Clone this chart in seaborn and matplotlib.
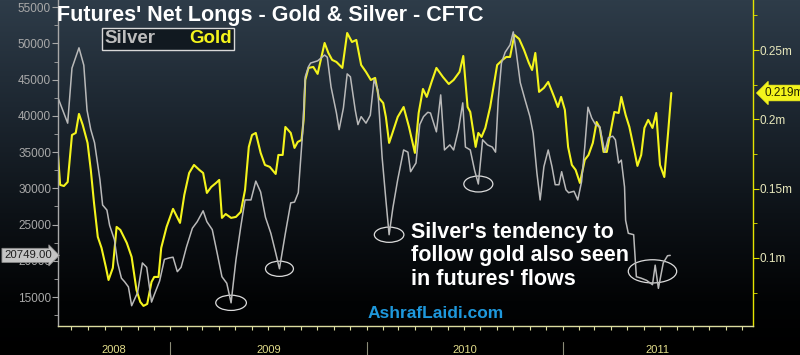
import numpy as np
import pandas as pd

import matplotlib
matplotlib.use("Agg")
import matplotlib.pyplot as plt
import matplotlib.dates as mdates
import matplotlib.transforms as mtransforms
from matplotlib.patches import Ellipse
from matplotlib.ticker import MultipleLocator, FixedLocator, FuncFormatter
from matplotlib.colors import LinearSegmentedColormap
import seaborn as sns

sns.set_style("dark")
plt.rcParams["font.family"] = ["Liberation Sans", "DejaVu Sans"]

# ---- data (weekly CFTC net longs) ----
START = pd.Timestamp("2008-06-06")
END = pd.Timestamp("2011-12-21")

# days since START, silver net longs (thousand contracts)
silver_day = [0, 18, 26, 39, 48, 54, 61, 68, 78, 83,
              91, 96, 105, 111, 118, 124, 131, 137, 148, 157,
              165, 174, 179, 189, 198, 207, 214, 222, 229, 239,
              250, 259, 270, 277, 287, 296, 305, 314, 322, 331,
              340, 348, 359, 368, 377, 386, 396, 405, 412, 423,
              433, 440, 447, 455, 460, 466, 470, 483, 496, 501,
              508, 518, 523, 531, 538, 544, 553, 558, 564, 573,
              581, 588, 595, 603, 610, 616, 623, 632, 643, 651,
              656, 666, 673, 680, 688, 693, 704, 712, 719, 729,
              736, 745, 753, 758, 767, 775, 782, 790, 799, 808,
              814, 819, 825, 832, 841, 847, 852, 860, 869, 878,
              884, 891, 897, 904, 912, 919, 925, 932, 937, 945,
              950, 960, 967, 974, 980, 986, 993, 1000, 1008, 1017,
              1024, 1032, 1037, 1043, 1048, 1054, 1056, 1061, 1071, 1076,
              1085, 1095, 1106, 1111, 1117, 1126, 1134, 1139]
silver_k = [42.5, 39.0, 46.6, 49.4, 47.0, 40.8, 38.1, 36.3, 31.2, 27.7,
            27.0, 24.9, 22.9, 19.7, 17.6, 17.1, 16.4, 13.8, 15.6, 19.7,
            19.1, 14.3, 15.3, 17.2, 20.2, 20.4, 20.5, 18.5, 19.1, 21.9,
            24.5, 25.4, 26.9, 25.4, 24.3, 21.1, 17.8, 16.9, 14.2, 20.1,
            24.7, 28.4, 28.4, 31.0, 29.5, 26.0, 23.8, 21.1, 18.9, 23.8,
            28.0, 28.1, 29.4, 37.6, 45.4, 46.8, 47.3, 47.6, 48.4, 48.1,
            44.0, 40.4, 38.1, 41.1, 45.8, 45.4, 40.8, 38.8, 39.9, 39.0,
            40.1, 45.0, 43.6, 34.3, 28.4, 23.6, 27.3, 31.2, 35.3, 35.0,
            32.3, 33.5, 38.8, 39.9, 40.5, 40.4, 37.8, 42.9, 35.3, 36.0,
            35.3, 38.1, 41.8, 35.7, 35.3, 32.5, 30.6, 36.7, 36.0, 35.7,
            35.0, 42.2, 47.3, 48.8, 49.8, 51.6, 49.1, 44.6, 42.2, 39.9,
            37.6, 32.1, 28.4, 33.0, 35.3, 33.0, 30.5, 30.5, 32.3, 29.8,
            29.4, 29.6, 28.4, 30.9, 35.7, 41.2, 39.7, 38.8, 38.5, 35.0,
            37.0, 37.2, 36.7, 33.5, 33.9, 30.2, 25.6, 23.8, 23.6, 17.8,
            17.6, 17.3, 16.7, 19.4, 16.2, 19.7, 20.7, 20.749]

# days since START, gold net longs (thousand contracts)
gold_day = [0, 4, 11, 18, 26, 33, 39, 46, 55, 61,
            67, 74, 81, 89, 94, 102, 109, 116, 128, 137,
            146, 153, 159, 166, 174, 179, 187, 192, 202, 214,
            227, 235, 244, 253, 263, 270, 277, 285, 294, 300,
            305, 312, 322, 331, 340, 348, 355, 361, 368, 377,
            385, 394, 405, 410, 418, 423, 433, 440, 446, 453,
            457, 460, 466, 475, 483, 496, 503, 510, 518, 529,
            538, 547, 555, 564, 573, 582, 590, 597, 605, 610,
            616, 621, 632, 643, 653, 664, 671, 679, 686, 695,
            704, 716, 727, 736, 747, 754, 762, 767, 777, 782,
            788, 795, 804, 817, 827, 834, 841, 849, 858, 867,
            876, 882, 888, 895, 904, 912, 923, 930, 936, 943,
            949, 956, 963, 971, 980, 987, 995, 1002, 1008, 1015,
            1021, 1028, 1035, 1043, 1048, 1056, 1063, 1072, 1078, 1085,
            1091, 1098, 1106, 1113, 1120, 1128, 1135, 1141]
gold_k = [174.3, 152.7, 151.9, 154.8, 188.7, 190.2, 203.9, 196.0, 183.0, 163.5,
          139.7, 115.2, 107.2, 93.5, 84.1, 92.8, 122.4, 120.2, 110.8, 100.7,
          76.9, 68.3, 65.4, 66.8, 82.7, 86.3, 86.3, 107.2, 122.4, 135.4,
          125.3, 145.5, 161.3, 167.1, 163.5, 161.3, 146.9, 151.2, 154.1, 156.3,
          128.9, 131.7, 128.9, 129.6, 133.2, 149.1, 180.1, 188.7, 190.2, 175.8,
          167.1, 165.7, 160.6, 174.3, 174.3, 194.5, 190.2, 179.4, 183.7, 185.1,
          199.6, 228.4, 237.1, 237.8, 232.8, 255.1, 247.9, 242.9, 241.4, 237.1,
          262.3, 255.8, 257.3, 239.2, 234.2, 228.4, 229.9, 215.4, 211.8, 201.7,
          183.0, 188.7, 201.7, 208.9, 194.5, 175.8, 204.6, 221.9, 216.2, 227.0,
          237.1, 230.6, 225.5, 228.4, 234.2, 245.7, 208.9, 205.3, 180.1, 190.2,
          187.3, 193.8, 208.9, 239.2, 242.9, 245.0, 245.0, 260.9, 258.0, 250.1,
          240.7, 235.6, 247.9, 219.8, 222.7, 227.0, 216.2, 208.9, 216.2, 206.8,
          180.1, 167.1, 163.5, 154.1, 170.7, 174.3, 183.0, 198.1, 193.8, 176.5,
          176.5, 190.9, 205.3, 204.6, 216.2, 203.2, 194.5, 177.9, 166.4, 174.3,
          193.8, 199.6, 193.8, 204.6, 167.1, 158.4, 190.2, 219.0]

# silver lows that are circled on the chart (days since START)
circled_day = [322, 412, 616, 782, 1106]

years = [2008, 2009, 2010, 2011]

assert len(silver_day) == len(silver_k)
assert len(gold_day) == len(gold_k)

silver = pd.DataFrame({"date": START + pd.to_timedelta(silver_day, unit="D"),
                       "net": np.array(silver_k) * 1000})
gold = pd.DataFrame({"date": START + pd.to_timedelta(gold_day, unit="D"),
                     "net": np.array(gold_k) / 1000})

SILVER_C = "#b9b9b9"
GOLD_C = "#f4f41c"
AXIS_Y = "#dcdca0"

fig = plt.figure(figsize=(8, 3.55), dpi=100)

# dark slate-to-black background
bg = fig.add_axes([0, 0, 1, 1])
cmap = LinearSegmentedColormap.from_list(
    "bbg", [(0, "#2e3c49"), (0.3, "#1d2731"), (0.6, "#0d1217"), (0.85, "#020304"), (1, "#000000")])
bg.imshow(np.linspace(0, 1, 256)[:, None], aspect="auto", cmap=cmap, extent=[0, 1, 0, 1])
bg.axis("off")

ax = fig.add_axes([58 / 800, 29 / 355, 695 / 800, 326 / 355])
ax.set_facecolor("none")
ax2 = ax.twinx()
ax2.set_facecolor("none")

sns.lineplot(data=silver, x="date", y="net", ax=ax, color=SILVER_C, lw=1.1)
sns.lineplot(data=gold, x="date", y="net", ax=ax2, color=GOLD_C, lw=1.5)

ax.set_xlim(START, END)
ax.set_ylim(11000, 56000)
ax2.set_ylim(0.0509, 0.2861)
ax.set_xlabel(""); ax.set_ylabel(""); ax2.set_ylabel("")

# spines
for s in ["top", "right"]:
    ax.spines[s].set_visible(False)
for s in ["top", "left", "bottom"]:
    ax2.spines[s].set_visible(False)
ax.spines["left"].set_color("#a8a8a8")
ax.spines["bottom"].set_color(AXIS_Y)
ax2.spines["right"].set_color("#e4e400")
for sp in [ax.spines["left"], ax.spines["bottom"], ax2.spines["right"]]:
    sp.set_linewidth(1.0)

# x axis: monthly ticks, year labels below
ax.xaxis.set_major_locator(mdates.MonthLocator())
ax.tick_params(axis="x", bottom=True, labelbottom=False, length=3, width=0.8,
               color=AXIS_Y, direction="out")
trans = mtransforms.blended_transform_factory(ax.transData, ax.transAxes)
x0, x1 = ax.get_xlim()
for yr in years:
    lo = max(mdates.date2num(pd.Timestamp(f"{yr}-01-01")), x0)
    hi = min(mdates.date2num(pd.Timestamp(f"{yr + 1}-01-01")), x1)
    ax.text((lo + hi) / 2, -0.074, str(yr), transform=trans, ha="center", va="center",
            color="#e2dc8a", fontsize=8)
    if yr > years[0]:
        d = mdates.date2num(pd.Timestamp(f"{yr}-01-01"))
        ax.plot([d, d], [-0.05, -0.1], transform=trans, color="#8c8c78", lw=0.8, clip_on=False)

# left axis (silver)
ax.yaxis.set_major_locator(MultipleLocator(5000))
ax.yaxis.set_minor_locator(MultipleLocator(2500))
ax.yaxis.set_major_formatter(FuncFormatter(lambda v, p: f"{v:.0f}"))
ax.tick_params(axis="y", which="both", left=True, direction="out", color="#a8a8a8",
               labelcolor="#a9a9a9", labelsize=8.5, pad=1)
ax.tick_params(axis="y", which="major", length=4)
ax.tick_params(axis="y", which="minor", length=3)

# right axis (gold)
ax2.yaxis.set_major_locator(FixedLocator([0.1, 0.15, 0.2, 0.25]))
ax2.yaxis.set_minor_locator(FixedLocator([0.075, 0.125, 0.175, 0.225, 0.275]))
ax2.yaxis.set_major_formatter(FuncFormatter(lambda v, p: f"{v:g}m"))
ax2.tick_params(axis="y", which="both", right=True, direction="out", color="#e4e400",
                labelcolor="#e8e8bc", labelsize=8.5, pad=1)
ax2.tick_params(axis="y", which="major", length=4)
ax2.tick_params(axis="y", which="minor", length=3)
ax.grid(False); ax2.grid(False)

# last-value tags
ax.text(-0.009, silver["net"].iloc[-1], f"{silver['net'].iloc[-1]:.2f}",
        transform=mtransforms.blended_transform_factory(ax.transAxes, ax.transData),
        ha="right", va="center", fontsize=8.2, color="#1e1e1e", clip_on=False, zorder=10,
        bbox=dict(boxstyle="rarrow,pad=0.18", facecolor="#c4c4c4", edgecolor="#8a8a8a", lw=0.6))
ax2.text(1.017, gold["net"].iloc[-1], f"{gold['net'].iloc[-1]:.3f}m",
         transform=mtransforms.blended_transform_factory(ax2.transAxes, ax2.transData),
         ha="left", va="center", fontsize=8.5, color="#202000", clip_on=False,
         bbox=dict(boxstyle="larrow,pad=0.15", facecolor="#f4f41c", edgecolor="#f4f41c", lw=0.6))

# circles round the silver lows
sizes = [(57, 2100), (52, 2100), (55, 2100), (54, 2200), (90, 3200)]
for d, (w, h) in zip(circled_day, sizes):
    cx = START + pd.Timedelta(days=d)
    cy = np.interp(d, silver_day, silver["net"])
    if d == circled_day[-1]:
        cy = silver["net"].iloc[-8:].mean()
    ax.add_patch(Ellipse((mdates.date2num(cx), cy), w, h, fill=False,
                         edgecolor="#dcdcdc", lw=0.9))

# legend box
leg = ax.legend([ax.lines[0], ax2.lines[0]], ["Silver", "Gold"], loc="upper left",
                bbox_to_anchor=(0.0633, 0.914), ncol=2, handlelength=0, handletextpad=0,
                columnspacing=1.8, frameon=True, fancybox=False, borderpad=0.12,
                borderaxespad=0, prop={"weight": "bold", "size": 13.5})
leg.get_frame().set_edgecolor("#d8d8d8")
leg.get_frame().set_facecolor("#111920")
leg.get_frame().set_alpha(1)
leg.get_frame().set_linewidth(1.0)
for h in leg.legend_handles:
    h.set_visible(False)
leg.get_texts()[0].set_color("#bdbdbd")
leg.get_texts()[1].set_color(GOLD_C)
ax.set_zorder(ax2.get_zorder() + 1)
ax.patch.set_visible(False)

fig.text(57 / 800, 1 - 15 / 355, "Futures' Net Longs - Gold & Silver - CFTC", color="white",
         fontsize=15.5, fontweight="bold", ha="left", va="center")
fig.text(411 / 800, 1 - 222 / 355, "Silver's tendency to\nfollow gold also seen\nin futures' flows",
         color="white", fontsize=15.5, fontweight="bold", ha="left", va="top", linespacing=1.15)
fig.text(436 / 800, 1 - 314 / 355, "AshrafLaidi.com", color="#1e98dc", fontsize=12.5,
         fontweight="bold", ha="center", va="center")

fig.savefig("out.png", dpi=100)
